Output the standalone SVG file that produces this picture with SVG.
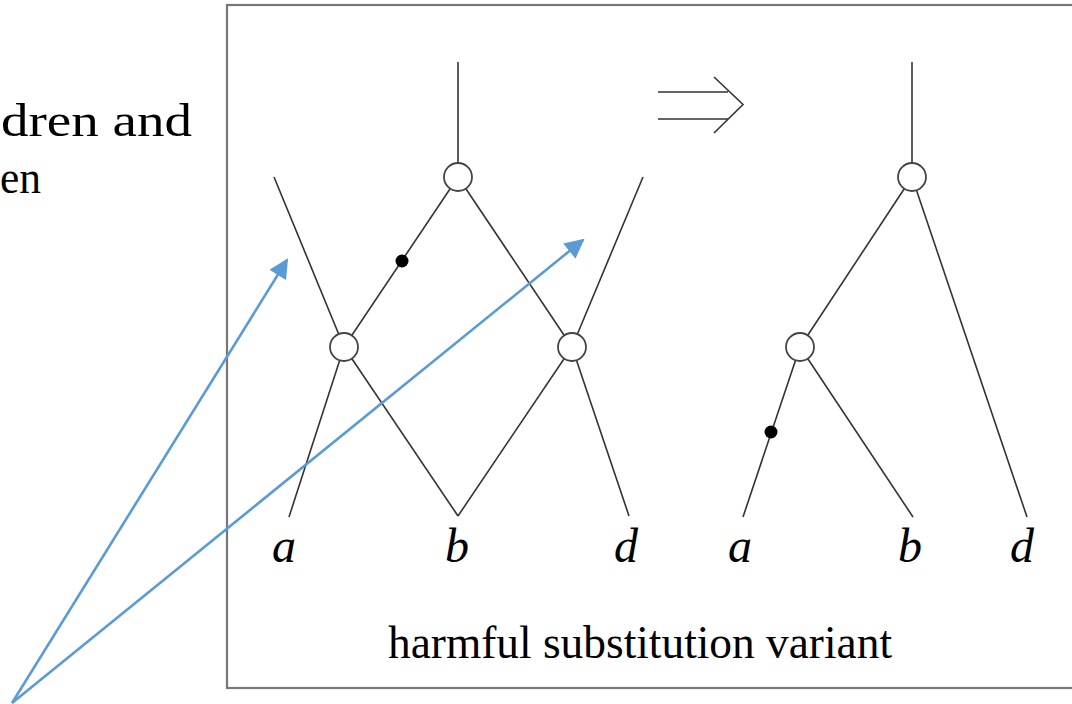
<svg xmlns="http://www.w3.org/2000/svg" width="1072" height="704" viewBox="0 0 1072 704">
<style>
.e{stroke:#333;stroke-width:1.6;fill:none}
.n{fill:#fff;stroke:#444;stroke-width:1.8}
.lab{font-family:"Liberation Serif",serif;font-style:italic;font-size:48px;fill:#000}
.bl{stroke:#5B9BD5;stroke-width:2.6;fill:none}
</style>
<defs>
<marker id="ah" viewBox="0 0 10 10" refX="9" refY="5" markerWidth="8" markerHeight="7.5" markerUnits="strokeWidth" orient="auto">
<path d="M0,0L10,5L0,10z" fill="#5B9BD5"/>
</marker>
</defs>
<rect width="1072" height="704" fill="#fff"/>
<text x="1" y="136" font-family="Liberation Serif,serif" font-size="46" textLength="191" lengthAdjust="spacingAndGlyphs" fill="#000">dren and</text>
<text x="0" y="193" font-family="Liberation Serif,serif" font-size="46" textLength="41" lengthAdjust="spacingAndGlyphs" fill="#000">en</text>
<rect id="frame" x="227" y="5" width="860" height="683" fill="none" stroke="#777" stroke-width="2.2"/>
<g id="connectors">
<line class="e" x1="458" y1="62" x2="458" y2="177"/>
<line class="e" x1="458" y1="177" x2="344" y2="347"/>
<line class="e" x1="458" y1="177" x2="572" y2="347"/>
<line class="e" x1="274" y1="177" x2="344" y2="347"/>
<line class="e" x1="643" y1="177" x2="572" y2="347"/>
<line class="e" x1="344" y1="347" x2="289" y2="517"/>
<line class="e" x1="344" y1="347" x2="458" y2="516"/>
<line class="e" x1="572" y1="347" x2="458" y2="516"/>
<line class="e" x1="572" y1="347" x2="629" y2="516"/>
<line class="e" x1="912" y1="62" x2="912" y2="177"/>
<line class="e" x1="912" y1="177" x2="800" y2="347"/>
<line class="e" x1="912" y1="177" x2="1027" y2="517"/>
<line class="e" x1="800" y1="347" x2="743" y2="517"/>
<line class="e" x1="800" y1="347" x2="913" y2="517"/>
<path class="e" d="M658,92H728M658,119H728M714,77L743,104.5L714,133"/>
</g>
<g id="node-top-left"><circle class="n" cx="458" cy="177" r="14"/></g>
<g id="node-left"><circle class="n" cx="344" cy="347" r="14"/></g>
<g id="node-right"><circle class="n" cx="572" cy="347" r="14"/></g>
<g id="node-top-right"><circle class="n" cx="912" cy="177" r="14"/></g>
<g id="node-mid-right"><circle class="n" cx="800" cy="347" r="14"/></g>
<g id="dot-left"><circle cx="402" cy="261" r="6.5" fill="#000"/></g>
<g id="dot-right"><circle cx="771" cy="432" r="6.5" fill="#000"/></g>
<g id="labels">
<text class="lab" x="284" y="562" text-anchor="middle">a</text>
<text class="lab" x="457" y="562" text-anchor="middle">b</text>
<text class="lab" x="626" y="562" text-anchor="middle">d</text>
<text class="lab" x="740" y="562" text-anchor="middle">a</text>
<text class="lab" x="910" y="562" text-anchor="middle">b</text>
<text class="lab" x="1022" y="562" text-anchor="middle">d</text>
</g>
<text x="640" y="658" text-anchor="middle" font-family="Liberation Serif,serif" font-size="46" textLength="504" lengthAdjust="spacingAndGlyphs" fill="#000">harmful substitution variant</text>
<g id="blue-arrows">
<line class="bl" x1="12" y1="703" x2="287" y2="260" marker-end="url(#ah)"/>
<line class="bl" x1="12" y1="703" x2="583" y2="240" marker-end="url(#ah)"/>
</g>
</svg>
